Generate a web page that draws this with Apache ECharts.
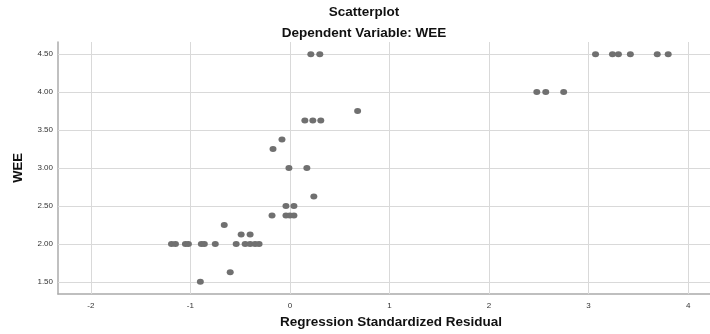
<!DOCTYPE html>
<html>
<head>
<meta charset="utf-8">
<script src="https://cdn.jsdelivr.net/npm/echarts@6/dist/echarts.min.js"></script>
<style>
    html, body { margin: 0; padding: 0; background: #fff; }
    #chart { width: 710px; height: 334px; }
</style>
</head>
<body>
<div id="chart"></div>
<script>
// residual (x) and WEE (y)
var residual = [
    0.21, 0.30, 3.07, 3.24, 3.30, 3.42, 3.69, 3.80,
    2.48, 2.57, 2.75,
    0.68,
    0.15, 0.23, 0.31,
    -0.08,
    -0.17,
    -0.01, 0.17,
    0.24,
    -0.04, 0.04,
    -0.18, -0.04, 0.00, 0.04,
    -0.66,
    -0.49, -0.40,
    -1.19, -1.15, -1.05, -1.02, -0.89, -0.86, -0.75, -0.54, -0.45, -0.40, -0.35, -0.31,
    -0.60,
    -0.90
];
var wee = [
    4.5, 4.5, 4.5, 4.5, 4.5, 4.5, 4.5, 4.5,
    4.0, 4.0, 4.0,
    3.75,
    3.625, 3.625, 3.625,
    3.375,
    3.25,
    3.0, 3.0,
    2.625,
    2.5, 2.5,
    2.375, 2.375, 2.375, 2.375,
    2.25,
    2.125, 2.125,
    2.0, 2.0, 2.0, 2.0, 2.0, 2.0, 2.0, 2.0, 2.0, 2.0, 2.0, 2.0,
    1.625,
    1.5
];
var xTicks = [-2, -1, 0, 1, 2, 3, 4];
var yTicks = [1.5, 2.0, 2.5, 3.0, 3.5, 4.0, 4.5];

var points = [];
for (var i = 0; i < residual.length; i++) {
    points.push([residual[i], wee[i]]);
}

// grid lines at the tick values
var gridLines = [];
xTicks.forEach(function (v) { gridLines.push({ xAxis: v }); });
yTicks.forEach(function (v) { gridLines.push({ yAxis: v }); });

var chart = echarts.init(document.getElementById('chart'));
var option = {
    animation: false,
    textStyle: { fontFamily: 'Liberation Sans' },
    title: [
        {
            text: 'Scatterplot',
            left: 364, top: 5,
            textAlign: 'center',
            padding: 0,
            textStyle: { fontSize: 13.5, fontWeight: 'bold', color: '#111' }
        },
        {
            text: 'Dependent Variable: WEE',
            left: 364, top: 26,
            textAlign: 'center',
            padding: 0,
            textStyle: { fontSize: 13.5, fontWeight: 'bold', color: '#111' }
        }
    ],
    grid: { left: 58, right: 0, top: 42, bottom: 38 },
    xAxis: {
        type: 'value',
        min: -2.33, max: 4.22,
        name: 'Regression Standardized Residual',
        nameLocation: 'middle',
        nameGap: 21,
        nameTextStyle: { fontSize: 13.5, fontWeight: 'bold', color: '#111', padding: [0, 0, 0, 14] },
        axisLine: { show: true, onZero: false, lineStyle: { color: '#ababab', width: 1.5 } },
        axisTick: { show: false, customValues: xTicks },
        axisLabel: { customValues: xTicks, fontSize: 8, color: '#333', margin: 8 },
        splitLine: { show: false }
    },
    yAxis: {
        type: 'value',
        min: 1.34, max: 4.66,
        name: 'WEE',
        nameLocation: 'middle',
        nameGap: 33,
        nameTextStyle: { fontSize: 13, fontWeight: 'bold', color: '#111' },
        axisLine: { show: true, onZero: false, lineStyle: { color: '#ababab', width: 1.5 } },
        axisTick: { show: false, customValues: yTicks },
        axisLabel: {
            customValues: yTicks, fontSize: 8, color: '#333', margin: 5,
            formatter: function (v) { return v.toFixed(2); }
        },
        splitLine: { show: false }
    },
    series: [
        {
            name: 'grid',
            type: 'scatter',
            data: [],
            z: 1,
            silent: true,
            markLine: {
                silent: true,
                z: 1,
                symbol: ['none', 'none'],
                label: { show: false },
                lineStyle: { color: '#d9d9d9', width: 1, type: 'solid' },
                data: gridLines
            }
        },
        {
            name: 'WEE',
            type: 'scatter',
            z: 5,
            symbol: 'circle',
            symbolSize: [7, 6],
            itemStyle: { color: '#707070', opacity: 1 },
            data: points
        }
    ]
};
chart.setOption(option);
</script>
</body>
</html>
